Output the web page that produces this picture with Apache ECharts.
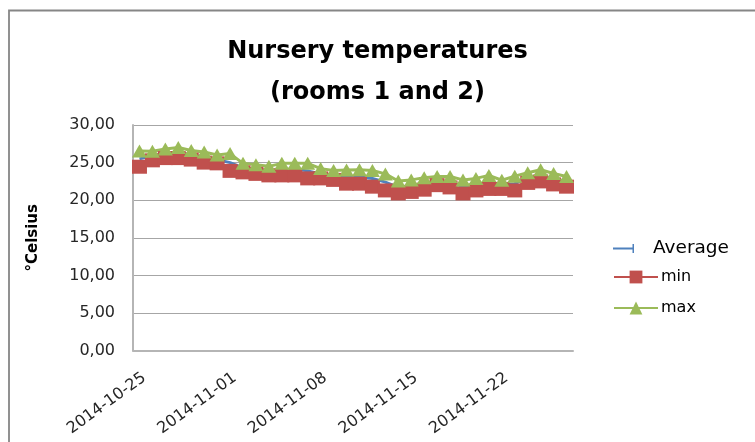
<!DOCTYPE html>
<html>
<head>
<meta charset="utf-8">
<script src="https://cdn.jsdelivr.net/npm/echarts@6/dist/echarts.min.js"></script>
<style>
html,body{margin:0;padding:0;background:#fff;}
#chart{width:755px;height:442px;}
</style>
</head>
<body>
<div id="chart"></div>
<script>
const dates = ['2014-10-25','2014-10-26','2014-10-27','2014-10-28','2014-10-29','2014-10-30','2014-10-31',
  '2014-11-01','2014-11-02','2014-11-03','2014-11-04','2014-11-05','2014-11-06','2014-11-07',
  '2014-11-08','2014-11-09','2014-11-10','2014-11-11','2014-11-12','2014-11-13','2014-11-14',
  '2014-11-15','2014-11-16','2014-11-17','2014-11-18','2014-11-19','2014-11-20','2014-11-21',
  '2014-11-22','2014-11-23','2014-11-24','2014-11-25','2014-11-26','2014-11-27'];
const avgTemps = [25.5,25.9,26.2,26.3,26.0,25.7,25.4,25.0,24.3,24.1,23.9,24.1,24.1,23.9,23.5,23.3,23.1,
  23.1,22.9,22.4,21.7,21.9,22.2,22.6,22.4,21.8,22.1,22.4,22.1,22.2,23.0,23.3,22.8,22.5];
const minTemps = [24.45,25.3,25.6,25.6,25.4,25.0,24.9,23.9,23.7,23.5,23.3,23.3,23.3,22.9,22.9,22.7,22.2,
  22.2,21.8,21.3,20.9,21.1,21.4,22.0,21.7,20.9,21.3,21.5,21.5,21.3,22.3,22.5,22.1,21.8];
const maxTemps = [26.55,26.5,26.8,27.0,26.6,26.4,26.0,26.2,24.9,24.7,24.5,24.9,24.9,24.9,24.2,23.95,24.0,
  24.05,23.95,23.5,22.55,22.7,23.0,23.15,23.15,22.7,22.9,23.3,22.65,23.2,23.65,24.05,23.55,23.15];
const seriesNames = ['Average','min','max'];
const yTicks = {min: 0, max: 30, interval: 5};

const chart = echarts.init(document.getElementById('chart'), null, {renderer: 'canvas'});
const font = 'DejaVu Sans';
chart.setOption({
  animation: false,
  backgroundColor: '#fff',
  title: {
    text: 'Nursery temperatures\n(rooms 1 and 2)',
    left: 'center', top: 26,
    textStyle: {fontFamily: font, fontWeight: 'bold', fontSize: 24, lineHeight: 41.5, color: '#000'}
  },
  graphic: [{
    type: 'polyline', silent: true, z: -1,
    shape: {points: [[9, 700], [9, 10.5], [900, 10.5]]},
    style: {fill: 'none', stroke: '#868686', lineWidth: 1.8}
  }],
  legend: [
    {
      data: [{name: seriesNames[0], icon: 'path://M0,3.5 L19.5,3.5 L19.5,0 L21,0 L21,9 L19.5,9 L19.5,5.5 L0,5.5 Z'}],
      left: 613, top: 239, padding: 0, itemWidth: 21, itemHeight: 9, selectedMode: false,
      textStyle: {fontFamily: font, fontSize: 18.5, color: '#000', padding: [0, 0, 0, 14]}
    },
    {
      data: [seriesNames[1]], left: 613, top: 269, padding: 0, itemWidth: 44, itemHeight: 16, selectedMode: false,
      textStyle: {fontFamily: font, fontSize: 16, color: '#000', padding: [0, 0, 0, -2]}
    },
    {
      data: [seriesNames[2]], left: 613, top: 300, padding: 0, itemWidth: 44, itemHeight: 16, selectedMode: false,
      textStyle: {fontFamily: font, fontSize: 16, color: '#000', padding: [0, 0, 0, -2]}
    }
  ],
  grid: {left: 133, top: 125, right: 182, bottom: 91.4, containLabel: false},
  xAxis: {
    type: 'category', data: dates, boundaryGap: true,
    axisLine: {show: true, lineStyle: {color: '#b5b5b5', width: 2}},
    axisTick: {show: false},
    axisLabel: {
      interval: 6, rotate: 36, align: 'right', verticalAlign: 'top', lineHeight: 16, margin: 19,
      fontFamily: font, fontSize: 16, color: '#262626'
    },
    splitLine: {show: false}
  },
  yAxis: {
    type: 'value', min: yTicks.min, max: yTicks.max, interval: yTicks.interval,
    name: '°Celsius', nameLocation: 'middle', nameRotate: 90, nameGap: 92,
    nameTextStyle: {fontFamily: font, fontWeight: 'bold', fontSize: 15, color: '#000'},
    axisLine: {show: true, lineStyle: {color: '#b5b5b5', width: 2}},
    axisTick: {show: false},
    axisLabel: {
      margin: 18, fontFamily: font, fontSize: 16, color: '#262626',
      formatter: v => v.toFixed(2).replace('.', ',')
    },
    splitLine: {show: true, lineStyle: {color: '#a6a6a6', width: 1}}
  },
  series: [
    {
      name: seriesNames[0], type: 'line', data: avgTemps, symbol: 'none',
      color: '#4F81BD', lineStyle: {width: 3, color: '#4F81BD'}
    },
    {
      name: seriesNames[1], type: 'line', data: minTemps, symbol: 'rect', symbolSize: [15, 14],
      showAllSymbol: true,
      color: '#C0504D', lineStyle: {width: 3, color: '#C0504D'}, itemStyle: {color: '#C0504D'}
    },
    {
      name: seriesNames[2], type: 'line', data: maxTemps, symbol: 'triangle', symbolSize: [15, 13],
      showAllSymbol: true,
      color: '#9BBB59', lineStyle: {width: 3, color: '#9BBB59'}, itemStyle: {color: '#9BBB59'}
    }
  ]
});
</script>
</body>
</html>
